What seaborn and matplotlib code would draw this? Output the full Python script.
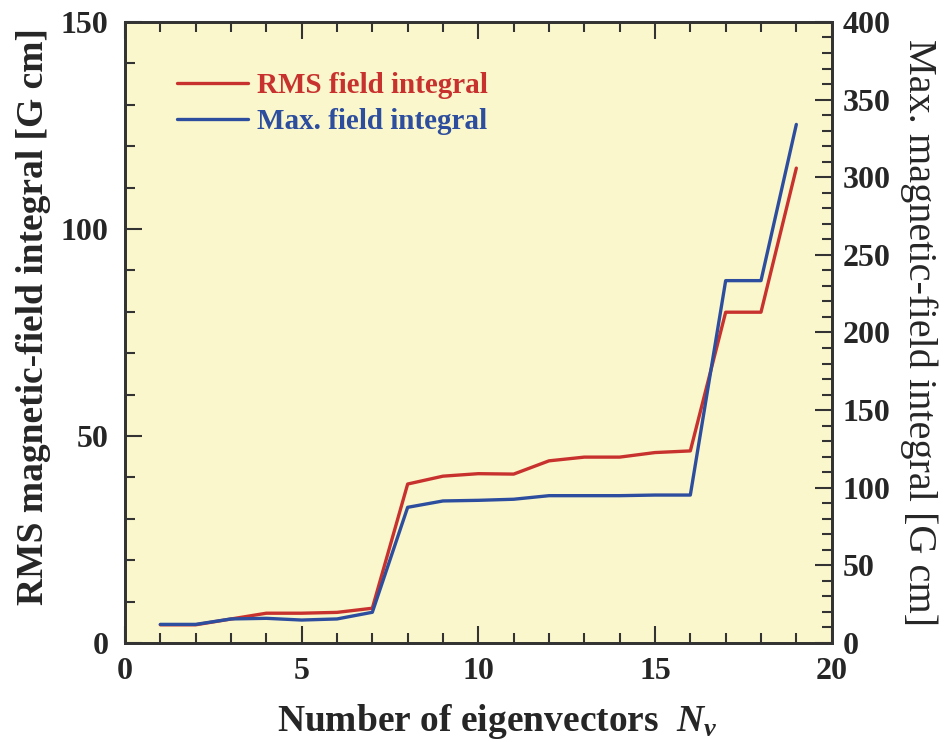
import matplotlib
matplotlib.use("Agg")
import matplotlib.pyplot as plt
from matplotlib.ticker import MultipleLocator
import seaborn as sns
import pandas as pd

n_vectors = list(range(1, 20))
rms_field = [4.4, 4.4, 5.8, 7.2, 7.2, 7.4, 8.4, 38.4, 40.3, 40.9, 40.8, 44.0, 44.9, 44.9, 46.0, 46.4, 79.9, 79.9, 114.7]
max_field = [12.0, 12.0, 15.5, 15.9, 14.8, 15.5, 19.8, 87.4, 91.5, 91.9, 92.6, 94.9, 94.9, 94.9, 95.3, 95.3, 233.4, 233.4, 334.0]

sns.set_theme(style="ticks")
plt.rcParams['font.family'] = ['Liberation Serif', 'DejaVu Serif']
plt.rcParams['mathtext.fontset'] = 'custom'
plt.rcParams['mathtext.it'] = 'Liberation Serif:italic:bold'
plt.rcParams['mathtext.rm'] = 'Liberation Serif:bold'

red = "#C8322E"
blue = "#2D4E9E"
bg = "#FBF7CC"

df = pd.DataFrame({"N": n_vectors, "rms": rms_field, "max": max_field})

fig = plt.figure(figsize=(9.44, 7.42), dpi=100)
ax = fig.add_axes([0.1324, 0.1334, 0.7486, 0.837])
ax.set_facecolor(bg)
ax2 = ax.twinx()

sns.lineplot(data=df, x="N", y="rms", ax=ax, color=red, linewidth=2.4, label="RMS field integral", legend=False)
sns.lineplot(data=df, x="N", y="max", ax=ax2, color=blue, linewidth=2.4, label="Max. field integral", legend=False)

ax.set_xlim(0, 20)
ax.set_ylim(0, 150)
ax2.set_ylim(0, 400)
ax.xaxis.set_major_locator(MultipleLocator(5))
ax.xaxis.set_minor_locator(MultipleLocator(1))
ax.yaxis.set_major_locator(MultipleLocator(50))
ax.yaxis.set_minor_locator(MultipleLocator(10))
ax2.yaxis.set_major_locator(MultipleLocator(50))
ax2.yaxis.set_minor_locator(MultipleLocator(10))

ax.tick_params(axis="x", which="both", direction="in", top=True, bottom=True, width=1.5, color="#333333")
ax.tick_params(axis="x", which="major", length=12, labelsize=23, pad=10)
ax.tick_params(axis="x", which="minor", length=7)
ax.tick_params(axis="y", which="both", direction="in", left=True, right=False, width=1.5, color="#333333")
ax.tick_params(axis="y", which="major", length=12, labelsize=23, pad=12)
ax.tick_params(axis="y", which="minor", length=7)
ax2.tick_params(axis="y", which="both", direction="in", right=True, left=False, width=1.5, color="#333333")
ax2.tick_params(axis="y", which="major", length=12, labelsize=23, pad=8)
ax2.tick_params(axis="y", which="minor", length=7)

for a in (ax, ax2):
    for s in a.spines.values():
        s.set_linewidth(2)
        s.set_color("#333333")
    for lab in a.get_xticklabels() + a.get_yticklabels():
        lab.set_fontweight("bold")

ax.set_xlabel(r"Number of eigenvectors  $N_v$", fontsize=27, fontweight="bold")
ax.xaxis.set_label_coords(0.527, -0.095)
ax.set_ylabel("RMS magnetic-field integral [G cm]", fontsize=27, fontweight="bold")
ax.yaxis.set_label_coords(-0.105, 0.525)
ax2.set_ylabel("Max. magnetic-field integral [G cm]", fontsize=29, rotation=-90, labelpad=34)

h1, l1 = ax.get_legend_handles_labels()
h2, l2 = ax2.get_legend_handles_labels()
leg = ax.legend(h1 + h2, l1 + l2, loc="upper left", bbox_to_anchor=(0.036, 0.961), frameon=False,
                prop={"family": "Liberation Serif", "weight": "bold", "size": 21},
                handlelength=2.45, handletextpad=0.3, labelspacing=0.3)
for txt, c in zip(leg.get_texts(), [red, blue]):
    txt.set_color(c)

fig.savefig("out.png", dpi=100)
